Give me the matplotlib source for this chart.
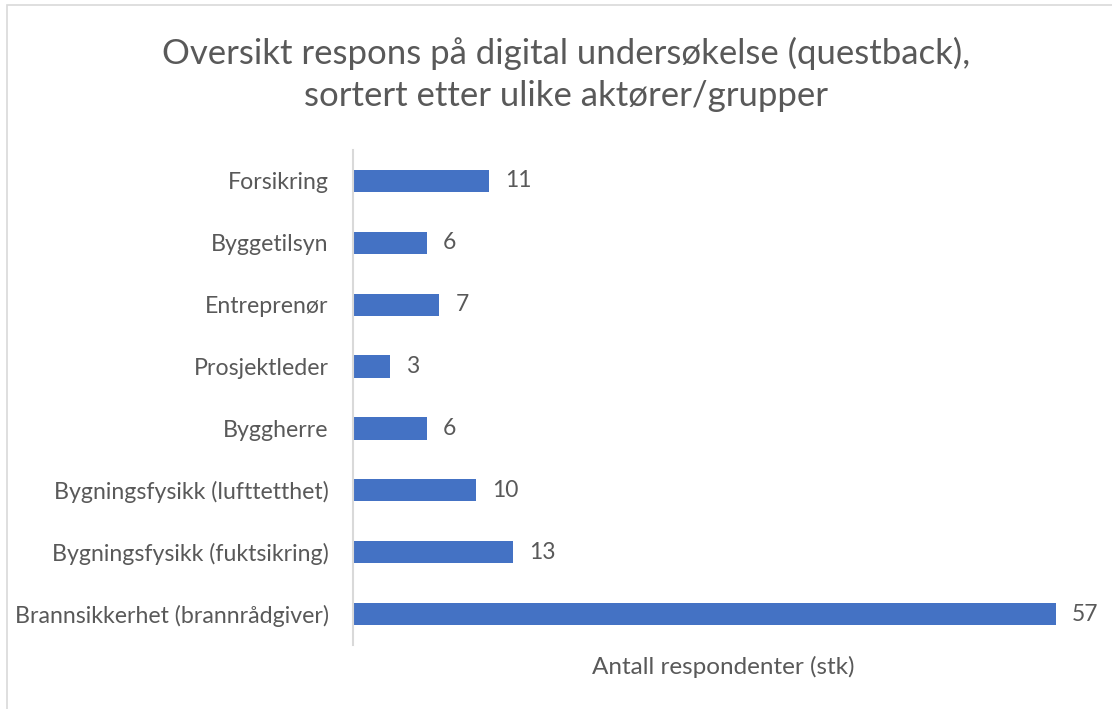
import matplotlib.pyplot as plt
from matplotlib.patches import Rectangle

plt.rcParams['font.family'] = ['Lato', 'DejaVu Sans']

# data, top to bottom as in the chart
categories = ['Forsikring', 'Byggetilsyn', 'Entreprenør', 'Prosjektleder',
              'Byggherre', 'Bygningsfysikk (lufttetthet)',
              'Bygningsfysikk (fuktsikring)', 'Brannsikkerhet (brannrådgiver)']
counts = [11, 6, 7, 3, 6, 10, 13, 57]

title = 'Oversikt respons på digital undersøkelse (questback),\nsortert etter ulike aktører/grupper'
xlabel = 'Antall respondenter (stk)'

text_col = '#595959'
bar_col = '#4472C4'
grid_col = '#D9D9D9'

W, H = 1112, 709
fig = plt.figure(figsize=(W / 100, H / 100), dpi=100)

# outer chart border (right and bottom are cut off in the original)
fig.patches.append(Rectangle((7 / W, -0.1), 1.2, 1 - 5 / H + 0.1,
                             transform=fig.transFigure, fill=False,
                             edgecolor=grid_col, linewidth=1.2))

ax = fig.add_axes([353 / W, 1 - 645 / H, (1093 - 353) / W, (645 - 150) / H])

y = list(range(len(categories)))
ax.barh(y, counts, height=0.36, color=bar_col)
ax.set_ylim(len(categories) - 0.5, -0.5)
ax.set_xlim(0, 60)

ax.set_yticks(y)
ax.set_yticklabels(categories, fontsize=16.7, color=text_col)
ax.tick_params(axis='y', length=0, pad=17.5)
ax.set_xticks([])

for i, v in enumerate(counts):
    ax.text(v + 1.3, i, str(v), va='center', ha='left', fontsize=16.5, color=text_col)

for s in ['top', 'right', 'bottom']:
    ax.spines[s].set_visible(False)
ax.spines['left'].set_color(grid_col)
ax.spines['left'].set_linewidth(1.5)

ax.set_xlabel(xlabel, fontsize=17.5, color=text_col, labelpad=8)

fig.text(566 / W, 1 - 74 / H, title, ha='center', va='center',
         fontsize=25, color=text_col, linespacing=1.38)

fig.savefig('out.png', dpi=100)
